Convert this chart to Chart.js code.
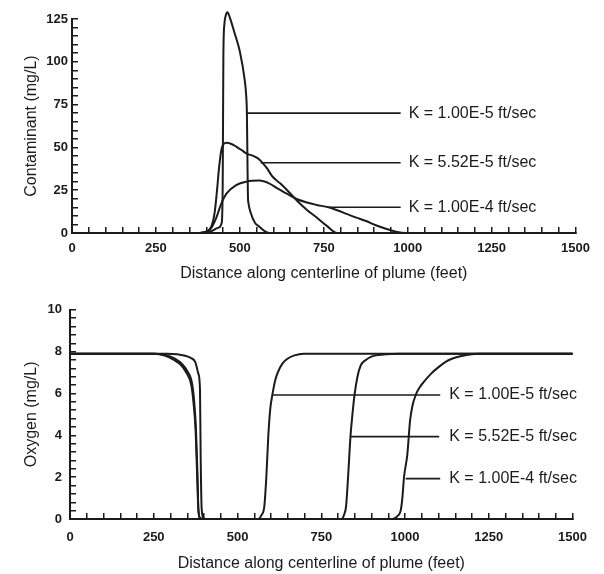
<!DOCTYPE html>
<html>
<head>
<meta charset="utf-8">
<title>Contaminant and oxygen along plume centerline</title>
<script src="https://cdn.jsdelivr.net/npm/chart.js@4/dist/chart.umd.min.js"></script>
<style>
  html, body { margin: 0; padding: 0; background: #fff; }
  #wrap { position: relative; width: 604px; height: 574px; }
  canvas { position: absolute; left: 0; }
  #contamChart { top: 0; }
  #oxygenChart { top: 288px; }
</style>
</head>
<body>
<div id="wrap">
  <canvas id="contamChart" width="604" height="285"></canvas>
  <canvas id="oxygenChart" width="604" height="286"></canvas>
</div>
<script>
// Values (distance in feet, concentration in mg/L)
const kText = ['K = 1.00E-5 ft/sec', 'K = 5.52E-5 ft/sec', 'K = 1.00E-4 ft/sec']

// Contaminant, K = 1.00E-5
const contamDist1 = [0, 380, 415, 435, 446, 449, 451, 454, 458, 463, 470, 484, 500, 514, 519, 521, 522.5, 524, 526, 532, 545, 558, 575, 590, 1500]
const contam1 = [0, 0, 1, 3, 6, 30, 105, 122, 127, 129, 126, 117, 106, 90, 80, 70, 45, 22, 17, 12, 6, 3.7, 1, 0, 0]
// Contaminant, K = 5.52E-5
const contamDist2 = [0, 370, 400, 415, 425, 432, 438, 445, 452, 460, 475, 489, 505, 519, 540, 558, 580, 597, 620, 641, 675, 700, 729, 760, 790, 1500]
const contam2 = [0, 0, 0.8, 3.7, 12, 25, 38, 48.6, 52, 52.7, 52, 50.5, 48.5, 46.5, 45, 43, 38, 33, 29, 25, 18, 13.5, 9, 4, 0, 0]
// Contaminant, K = 1.00E-4
const contamDist3 = [0, 370, 400, 415, 430, 445, 460, 489, 519, 558, 587, 612, 640, 671, 700, 729, 764, 788, 820, 847, 876, 905, 935, 965, 995, 1500]
const contam3 = [0, 0, 0.8, 3, 9, 17.3, 23, 28, 30, 30.6, 29, 26, 23, 19.7, 17.8, 16.4, 15, 13.4, 11, 9, 7, 4.5, 2.5, 0.8, 0, 0]

// Oxygen, K = 1.00E-5
const oxyDist1 = [0, 290, 320, 344, 360, 374, 383, 388, 390, 393, 398, 410, 560, 572, 580, 586, 592, 598, 604, 612, 620, 635, 648, 670, 697, 1500]
const oxy1 = [7.9, 7.9, 7.88, 7.8, 7.7, 7.5, 6.95, 6.2, 3, 0.5, 0.05, 0, 0, 0.2, 0.6, 2, 4, 5.3, 5.93, 6.6, 7.0, 7.45, 7.65, 7.82, 7.9, 7.9]
// Oxygen, K = 5.52E-5
const oxyDist2 = [0, 255, 290, 314, 335, 349, 364, 371, 376, 381, 383, 388, 400, 810, 818, 824, 830, 837, 843, 849, 858, 868, 883, 898, 920, 943, 980, 1500]
const oxy2 = [7.9, 7.9, 7.82, 7.65, 7.4, 7.1, 6.5, 5.55, 4.3, 1.9, 0.5, 0.05, 0, 0, 0.2, 0.6, 2, 3.9, 5, 5.9, 6.8, 7.35, 7.6, 7.75, 7.84, 7.88, 7.9, 7.9]
// Oxygen, K = 1.00E-4
const oxyDist3 = [0, 250, 285, 310, 332, 347, 362, 369, 375, 380, 383, 388, 400, 963, 978, 987, 992, 997, 1007, 1015, 1022, 1032, 1044, 1056, 1078, 1100, 1120, 1140, 1165, 1188, 1220, 1500]
const oxy3 = [7.9, 7.9, 7.8, 7.6, 7.35, 7.0, 6.4, 5.5, 4.2, 1.8, 0.5, 0.05, 0, 0, 0.15, 0.4, 1, 2, 3.1, 4.7, 5.4, 5.93, 6.3, 6.55, 6.95, 7.26, 7.5, 7.66, 7.78, 7.85, 7.9, 7.9]

// Leader lines from each curve to its label
const contamLeadStart = [521, 562, 764]
const contamLeadEnd = [979, 979, 979]
const contamLeadY = [70, 41, 15]
const oxyLeadStart = [604, 839, 1002]
const oxyLeadEnd = [1105, 1102, 1105]
const oxyLeadY = [5.93, 3.94, 1.93]

const ink = '#1b1b1b'
const fontFamily = '"Liberation Sans", Arial, Helvetica, sans-serif'

function toPoints(xs, ys) {
  return xs.map((x, i) => ({ x, y: ys[i] }))
}

function curve(xs, ys) {
  return {
    data: toPoints(xs, ys),
    showLine: true,
    borderColor: ink,
    borderWidth: 2,
    pointRadius: 0,
    cubicInterpolationMode: 'monotone',
    // the sharp peak rises a little above the top tick
    clip: false,
  }
}

function leader(x0, x1, y) {
  return {
    data: [{ x: x0, y }, { x: x1, y }],
    showLine: true,
    borderColor: ink,
    borderWidth: 1.6,
    pointRadius: 0,
    tension: 0,
  }
}

// Writes the K = ... labels at data coordinates via the chart's scales
const kLabels = {
  id: 'kLabels',
  afterDatasetsDraw(chart, args, opts) {
    const { ctx, scales } = chart
    ctx.save()
    ctx.font = `16px ${fontFamily}`
    ctx.fillStyle = ink
    ctx.textBaseline = 'middle'
    ctx.textAlign = 'left'
    opts.values.forEach((v, i) => {
      ctx.fillText(kText[i], scales.x.getPixelForValue(opts.x), scales.y.getPixelForValue(v))
    })
    ctx.restore()
  },
}

function buildChart(canvasId, cfg) {
  const datasets = cfg.curves.map((c) => curve(c[0], c[1]))
  cfg.leadY.forEach((y, i) => datasets.push(leader(cfg.leadStart[i], cfg.leadEnd[i], y)))

  return new Chart(document.getElementById(canvasId), {
    type: 'scatter',
    data: { datasets },
    options: {
      responsive: false,
      animation: false,
      events: [],
      layout: { padding: cfg.padding },
      plugins: {
        legend: { display: false },
        tooltip: { enabled: false },
        kLabels: { x: cfg.labelX, values: cfg.leadY },
      },
      scales: {
        x: {
          type: 'linear',
          min: 0,
          max: 1500,
          afterFit: (scale) => { scale.height = cfg.xHeight },
          border: { color: ink, width: 2 },
          grid: { drawOnChartArea: false, tickLength: -6, color: ink, lineWidth: 1.5 },
          ticks: {
            stepSize: 50,
            autoSkip: false,
            maxRotation: 0,
            padding: cfg.xPad,
            color: ink,
            font: { family: fontFamily, size: 13, weight: 'bold' },
            callback: (v) => (v % 250 === 0 ? String(v) : ''),
          },
          title: {
            display: true,
            text: 'Distance along centerline of plume (feet)',
            color: ink,
            font: { family: fontFamily, size: 16 },
            padding: { top: 0, bottom: cfg.xTitlePad },
          },
        },
        y: {
          min: 0,
          max: cfg.yMax,
          afterFit: (scale) => { scale.width = cfg.yWidth },
          border: { color: ink, width: 2 },
          grid: { drawOnChartArea: false, tickLength: -6, color: ink, lineWidth: 1.5 },
          ticks: {
            stepSize: cfg.yStep,
            autoSkip: false,
            padding: cfg.yPad,
            color: ink,
            font: { family: fontFamily, size: 13, weight: 'bold' },
            callback: (v) => {
              const n = Math.round(v / cfg.yLabelEvery)
              return Math.abs(v - n * cfg.yLabelEvery) < 1e-6 ? String(n * cfg.yLabelEvery) : ''
            },
          },
          title: {
            display: true,
            text: cfg.yTitle,
            color: ink,
            font: { family: fontFamily, size: 16 },
            padding: { top: 22, bottom: 0 },
          },
        },
      },
    },
    plugins: [kLabels],
  })
}

buildChart('contamChart', {
  curves: [[contamDist1, contam1], [contamDist2, contam2], [contamDist3, contam3]],
  leadStart: contamLeadStart,
  leadEnd: contamLeadEnd,
  leadY: contamLeadY,
  labelX: 1003,
  padding: { top: 19, right: 22, bottom: 0, left: 0 },
  xHeight: 52,
  xPad: 14,
  xTitlePad: 2,
  yWidth: 72,
  yPad: 10,
  yMax: 125,
  yStep: 5,
  yLabelEvery: 25,
  yTitle: 'Contaminant (mg/L)',
})

buildChart('oxygenChart', {
  curves: [[oxyDist1, oxy1], [oxyDist2, oxy2], [oxyDist3, oxy3]],
  leadStart: oxyLeadStart,
  leadEnd: oxyLeadEnd,
  leadY: oxyLeadY,
  labelX: 1132,
  padding: { top: 19, right: 25, bottom: 0, left: 0 },
  xHeight: 55,
  xPad: 17,
  xTitlePad: 1,
  yWidth: 70,
  yPad: 14,
  yMax: 10,
  yStep: 0.4,
  yLabelEvery: 2,
  yTitle: 'Oxygen (mg/L)',
})
</script>
</body>
</html>
